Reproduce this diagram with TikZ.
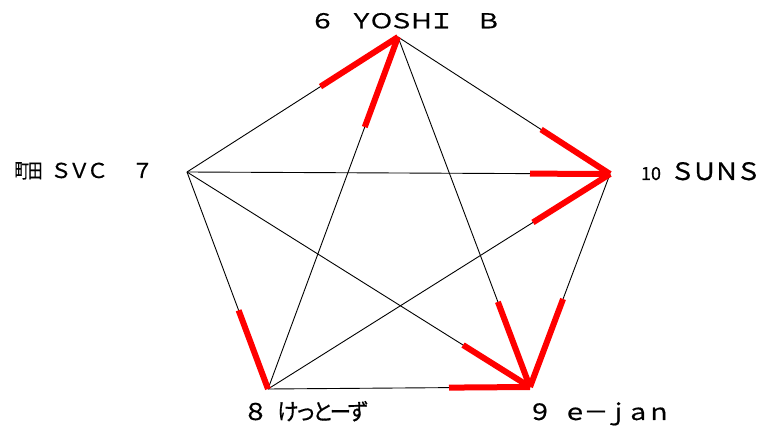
\documentclass[tikz,border=0pt]{standalone}
\usepackage{fontspec}
\usepackage{graphicx}
\setmainfont{Noto Sans CJK JP}[FakeBold=0.6]
\usetikzlibrary{calc}
\newcommand\cx[3][1.2]{\makebox[#2pt][c]{\scalebox{#1}[1]{#3}}}
\begin{document}
\begin{tikzpicture}[x=1pt,y=-1pt,
  edge/.style={black,line width=0.9pt},
  win/.style={red,line width=6pt},
  lab/.style={inner sep=0pt,outer sep=0pt,anchor=base west}]
\useasboundingbox[fill=white] (0,0) rectangle (764,430);
\coordinate (T) at (398,37);
\coordinate (R) at (610,174);
\coordinate (BR) at (530,387);
\coordinate (BL) at (268,389);
\coordinate (L) at (187,172);
% all pairs
\draw[edge] (T) -- (R);
\draw[edge] (T) -- (BR);
\draw[edge] (T) -- (BL);
\draw[edge] (T) -- (L);
\draw[edge] (R) -- (BR);
\draw[edge] (R) -- (BL);
\draw[edge] (R) -- (L);
\draw[edge] (BR) -- (BL);
\draw[edge] (BR) -- (L);
\draw[edge] (BL) -- (L);
% winning segments
\draw[win] (T) -- ($(T)!92pt!(L)$);
\draw[win] (T) -- ($(T)!96pt!(BL)$);
\draw[win] (R) -- ($(R)!82pt!(T)$);
\draw[win] (R) -- ($(R)!80pt!(L)$);
\draw[win] (R) -- ($(R)!91pt!(BL)$);
\draw[win] (BR) -- ($(BR)!94pt!(R)$);
\draw[win] (BR) -- ($(BR)!91pt!(T)$);
\draw[win] (BR) -- ($(BR)!79pt!(L)$);
\draw[win] (BR) -- ($(BR)!81pt!(BL)$);
\draw[win] (BL) -- ($(BL)!84pt!(L)$);
% labels
\node[lab,font=\fontsize{20.5}{20.5}\selectfont] (labT) at (312.5,28.3)
  {\cx[1.25]{20}{６}\hspace{19pt}\cx[1.25]{20}{Ｙ}\cx[1.25]{20}{Ｏ}\cx[1.25]{20}{Ｓ}\cx[1.25]{20}{Ｈ}\cx[1.25]{20}{Ｉ}\hspace{27pt}\cx[1.25]{20}{Ｂ}};
\node[lab,font=\fontsize{24}{24}\selectfont] (labR) at (639,180)
  {\makebox[24pt][c]{\fontsize{18}{18}\selectfont 10}\hspace{8.5pt}\cx[1.05]{22}{Ｓ}\cx[1.05]{22}{Ｕ}\cx[1.05]{22}{Ｎ}\cx[1.05]{22}{Ｓ}};
\node[lab,font=\fontsize{20.5}{20.5}\selectfont] (labL) at (15,178)
  {\makebox[13.5pt][c]{\fontsize{20}{20}\selectfont\scalebox{0.72}[1]{町}}\makebox[13.5pt][c]{\fontsize{20}{20}\selectfont\scalebox{0.72}[1]{田}}\hspace{9.9pt}\cx[1.05]{18.25}{Ｓ}\cx[1.05]{18.25}{Ｖ}\cx[1.05]{18.25}{Ｃ}\hspace{26.7pt}\cx[1.05]{18.25}{７}};
\node[lab,font=\fontsize{23}{23}\selectfont] (labBL) at (246.5,420)
  {\cx[1.1]{18}{８}\hspace{14.75pt}\cx[0.93]{17.5}{け}\cx[0.93]{17.5}{っ}\cx[0.93]{17.5}{と}\cx[0.93]{17.5}{ー}\cx[0.93]{17.5}{ず}};
\node[lab,font=\fontsize{22.5}{22.5}\selectfont] (labBR) at (529.5,420)
  {\cx[1.1]{21}{９}\hspace{14pt}\cx[1.1]{21}{ｅ}\cx[1.1]{21}{－}\cx[1.1]{21}{ｊ}\cx[1.1]{21}{ａ}\cx[1.1]{21}{ｎ}};
\end{tikzpicture}
\end{document}
